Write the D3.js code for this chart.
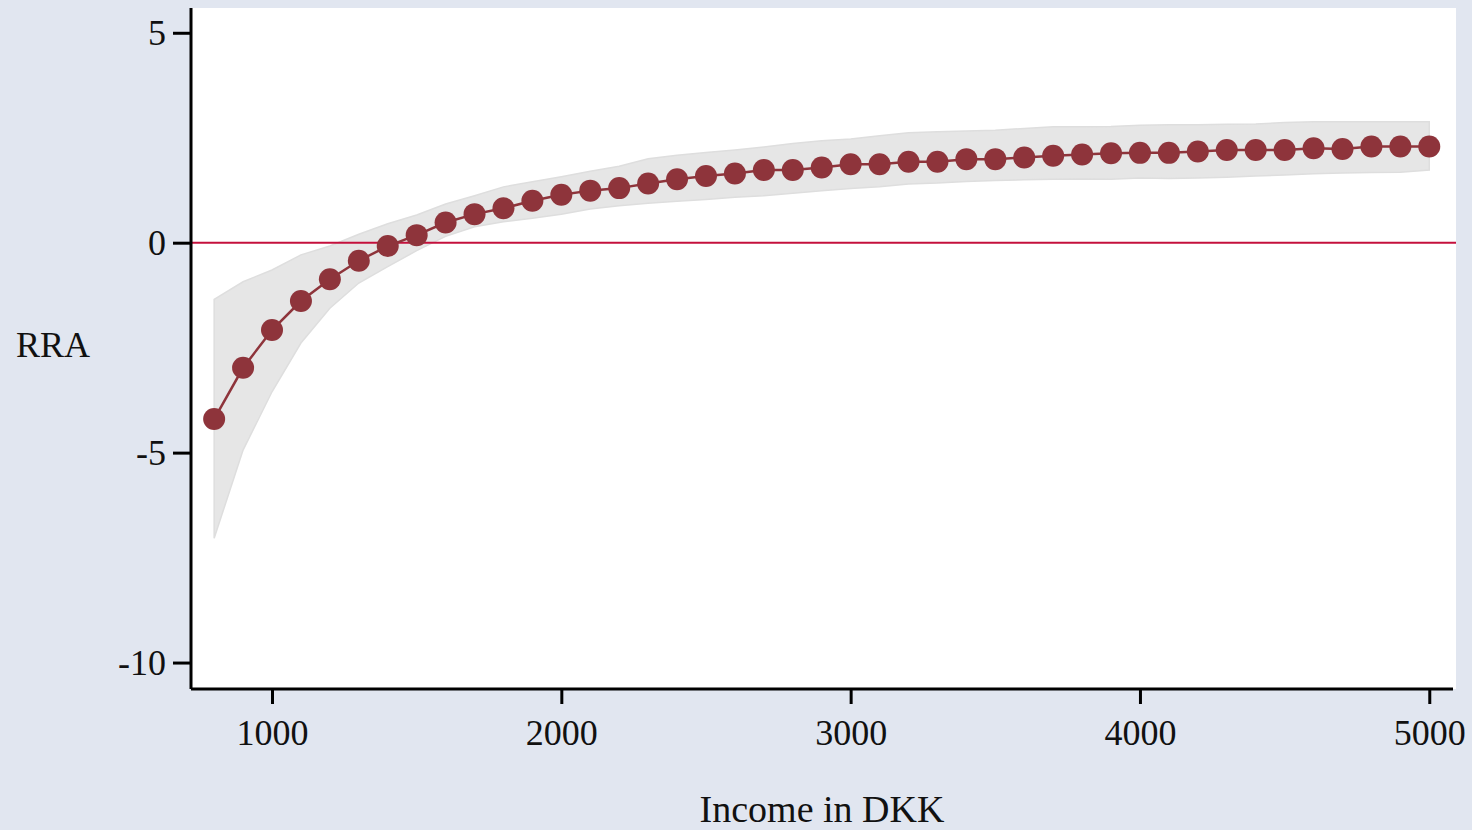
<!DOCTYPE html>
<html lang="en">
  <head>
    <meta charset="UTF-8" />
    <title>RRA by income</title>
    <script src="https://d3js.org/d3.v7.min.js"></script>
    <style>
      html, body { margin: 0; padding: 0; background: #e1e6f0; }
      svg { display: block; }
      svg text { font-family: "Liberation Serif", "DejaVu Serif", serif; fill: #111; }
    </style>
  </head>
  <body>
    <svg></svg>
    <script>
      // income levels (DKK) and estimated RRA with confidence band
      const income = d3.range(800, 5001, 100);
      const rra = [
        -4.2, -2.98, -2.08, -1.39, -0.87, -0.43, -0.08, 0.18, 0.48, 0.68,
        0.82, 1.0, 1.14, 1.24, 1.3, 1.41, 1.51, 1.59, 1.65, 1.73,
        1.73, 1.79, 1.87, 1.87, 1.93, 1.93, 1.99, 1.99, 2.03, 2.07,
        2.1, 2.13, 2.14, 2.14, 2.17, 2.21, 2.21, 2.21, 2.25, 2.23,
        2.29, 2.29, 2.29
      ];
      const upper = [
        -1.35, -0.93, -0.65, -0.29, -0.08, 0.2, 0.45, 0.66, 0.92, 1.12,
        1.33, 1.45, 1.57, 1.7, 1.82, 2.0, 2.08, 2.15, 2.21, 2.28,
        2.36, 2.43, 2.47, 2.55, 2.62, 2.64, 2.66, 2.68, 2.72, 2.76,
        2.76, 2.77, 2.8, 2.81, 2.81, 2.82, 2.83, 2.86, 2.88, 2.88,
        2.88, 2.88, 2.88
      ];
      const lower = [
        -7.04, -4.94, -3.55, -2.39, -1.56, -0.96, -0.57, -0.19, 0.15, 0.38,
        0.5, 0.58, 0.68, 0.8, 0.88, 0.94, 0.99, 1.03, 1.08, 1.12,
        1.18, 1.24, 1.29, 1.33, 1.4, 1.42, 1.46, 1.48, 1.5, 1.51,
        1.52, 1.51, 1.54, 1.53, 1.54, 1.56, 1.59, 1.61, 1.64, 1.66,
        1.67, 1.68, 1.73
      ];
      const xTicks = [1000, 2000, 3000, 4000, 5000];
      const yTicks = [5, 0, -5, -10];

      const width = 1472,
        height = 830;
      const pLeft = 191, pRight = 1453, pTop = 8, pBottom = 689;

      const svg = d3.select("svg").attr("width", width).attr("height", height);

      const x = d3.scaleLinear().domain([720, 5082]).range([pLeft, pRight]);
      const y = d3.scaleLinear().domain([-10.63, 5.59]).range([pBottom, pTop]);

      const data = income.map((v, i) => ({ x: v, y: rra[i], lo: lower[i], hi: upper[i] }));

      // white plot region
      svg.append("rect")
        .attr("x", pLeft).attr("y", pTop)
        .attr("width", 1456 - pLeft).attr("height", pBottom - pTop)
        .attr("fill", "#fff");

      // confidence band
      svg.append("path")
        .datum(data)
        .attr("fill", "#e6e6e6")
        .attr("stroke", "#dedede")
        .attr("stroke-width", 1.5)
        .attr("d", d3.area().x((d) => x(d.x)).y0((d) => y(d.lo)).y1((d) => y(d.hi)));

      // zero reference line
      svg.append("line")
        .attr("x1", pLeft).attr("x2", 1456)
        .attr("y1", y(0)).attr("y2", y(0))
        .attr("stroke", "#c4103c").attr("stroke-width", 2);

      // connecting line + markers
      svg.append("path")
        .datum(data)
        .attr("fill", "none")
        .attr("stroke", "#8e343b")
        .attr("stroke-width", 2.5)
        .attr("d", d3.line().x((d) => x(d.x)).y((d) => y(d.y)));

      svg.append("g")
        .selectAll("circle")
        .data(data)
        .enter()
        .append("circle")
        .attr("cx", (d) => x(d.x))
        .attr("cy", (d) => y(d.y))
        .attr("r", 11)
        .attr("fill", "#8e343b");

      // axes (plain hyphen for negatives, like the original)
      const fmt = (d) => String(d);
      const yAxis = svg.append("g")
        .attr("transform", `translate(${pLeft},0)`)
        .call(d3.axisLeft(y).tickValues(yTicks).tickSize(18).tickPadding(7).tickFormat(fmt));
      const xAxis = svg.append("g")
        .attr("transform", `translate(0,${pBottom})`)
        .call(d3.axisBottom(x).tickValues(xTicks).tickSize(15).tickPadding(15).tickFormat(fmt));

      [yAxis, xAxis].forEach((g) => {
        g.select(".domain").attr("stroke", "#000").attr("stroke-width", 3);
        g.selectAll(".tick line").attr("stroke", "#000").attr("stroke-width", 3);
        g.selectAll("text").attr("font-size", 36).attr("fill", "#111")
          .style("font-family", '"Liberation Serif", serif');
      });
      yAxis.select(".domain").attr("d", `M0,${pTop}V${pBottom}`);
      xAxis.select(".domain").attr("d", `M${pLeft},0H${pRight}`);

      // axis titles
      svg.append("text")
        .attr("x", 16).attr("y", 357)
        .attr("font-size", 36)
        .text("RRA");
      svg.append("text")
        .attr("x", 822).attr("y", 822)
        .attr("text-anchor", "middle")
        .attr("font-size", 38)
        .text("Income in DKK");
    </script>
  </body>
</html>
